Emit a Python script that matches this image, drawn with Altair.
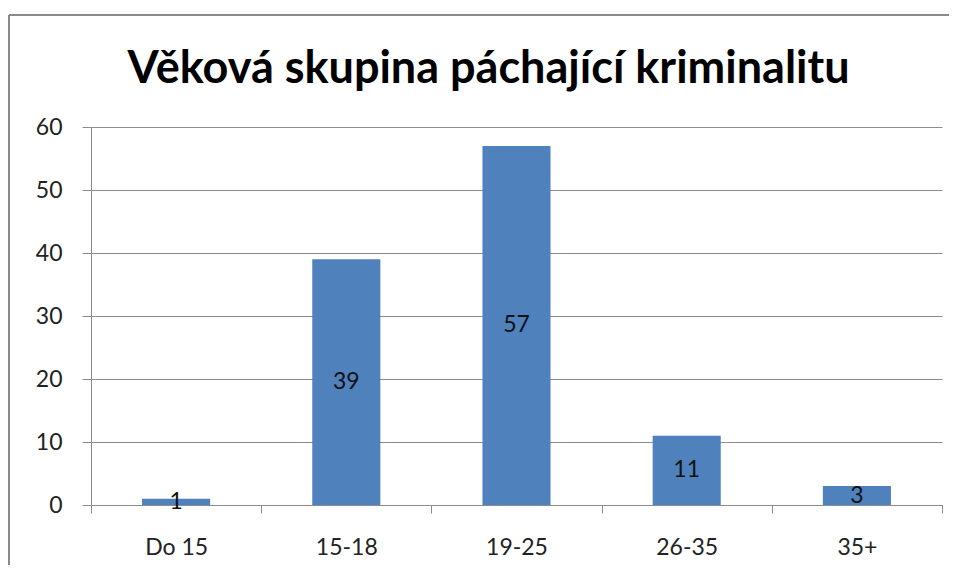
import altair as alt
import pandas as pd

categories = ["Do 15", "15-18", "19-25", "26-35", "35+"]
values = [1, 39, 57, 11, 3]
title_text = "Věková skupina páchající kriminalitu"

df = pd.DataFrame({"cat": categories, "val": values})

FONT = "Lato"
GRID = "#8c8c8c"

x_enc = alt.X(
    "cat:N", sort=categories, title=None,
    scale=alt.Scale(paddingInner=0, paddingOuter=0),
    axis=alt.Axis(labelAngle=0, labelFontSize=23, labelFont=FONT, labelColor="#222",
                  labelPadding=23, tickSize=8, tickColor=GRID, domainColor=GRID,
                  tickBand="extent", grid=False),
)
y_enc = alt.Y(
    "val:Q", title=None,
    scale=alt.Scale(domain=[0, 60], nice=False),
    axis=alt.Axis(values=[0, 10, 20, 30, 40, 50, 60], labelFontSize=23, labelFont=FONT,
                  labelColor="#222", labelPadding=20, tickSize=9, tickColor=GRID,
                  domainColor=GRID, gridColor=GRID, gridWidth=1),
)

bars = alt.Chart(df).mark_bar(color="#4F81BD", width=alt.RelativeBandSize(0.4)).encode(
    x=x_enc, y=y_enc
)

labels = alt.Chart(df).transform_calculate(mid="datum.val / 2").mark_text(
    font=FONT, fontSize=23, color="#111", baseline="middle"
).encode(x=alt.X("cat:N", sort=categories), y=alt.Y("mid:Q"), text="val:Q")

frame = alt.Chart(df).mark_rule(color="#8a8a8a", strokeWidth=2, clip=False).encode(
    x=alt.value(-82), x2=alt.value(870), y=alt.value(-112)
)
frame_left = alt.Chart(df).mark_rule(color="#8a8a8a", strokeWidth=2, clip=False).encode(
    x=alt.value(-82), y=alt.value(-112), y2=alt.value(470)
)

chart = alt.layer(bars, labels, frame, frame_left).properties(
    width=851, height=378,
    title=alt.TitleParams(title_text, font=FONT, fontSize=45, fontWeight="bold",
                          color="#000", anchor="middle", frame="group", dx=-28,
                          offset=0, dy=114, baseline="alphabetic"),
    autosize=alt.AutoSizeParams(type="none"),
    padding={"left": 83, "top": 119, "right": 7, "bottom": 60},
).configure_view(stroke=None)

chart.save("out.html", embed_options={"renderer": "svg", "actions": False})
